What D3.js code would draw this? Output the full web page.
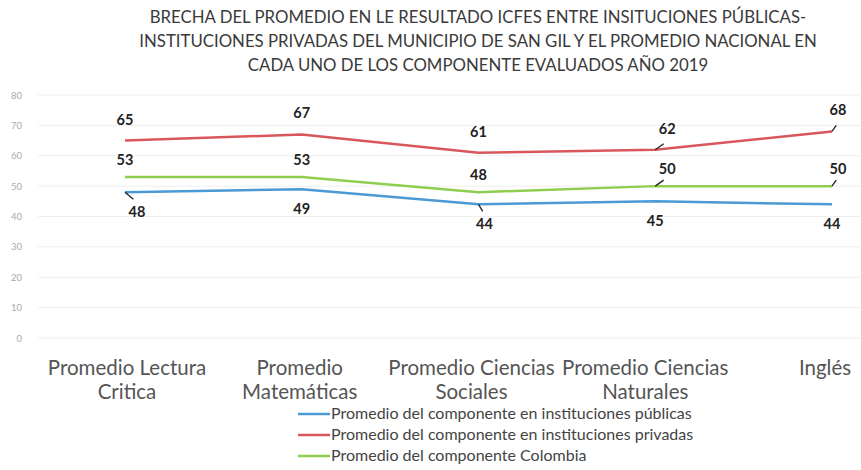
<!DOCTYPE html>
<html>
<head>
<meta charset="utf-8">
<script src="https://cdn.jsdelivr.net/npm/d3@7"></script>
<style>
  body { margin: 0; background: #fff; }
  svg { display: block; font-family: Lato, "Open Sans", sans-serif; }
</style>
</head>
<body>
<svg width="861" height="470"></svg>
<script>
// categories and series
const categories = ["Promedio Lectura Critica", "Promedio Matemáticas", "Promedio Ciencias Sociales", "Promedio Ciencias Naturales", "Inglés"];
const catLines = [["Promedio Lectura", "Critica"], ["Promedio", "Matemáticas"], ["Promedio Ciencias", "Sociales"], ["Promedio Ciencias", "Naturales"], ["Inglés"]];
const publicas = [48, 49, 44, 45, 44];
const privadas = [65, 67, 61, 62, 68];
const colombia = [53, 53, 48, 50, 50];
const seriesNames = [
    "Promedio del componente en instituciones públicas",
    "Promedio del componente en instituciones privadas",
    "Promedio del componente Colombia"
];
const yTicks = [0, 10, 20, 30, 40, 50, 60, 70, 80];
const titleLines = [
    "BRECHA DEL PROMEDIO EN LE RESULTADO ICFES ENTRE INSITUCIONES PÚBLICAS-",
    "INSTITUCIONES PRIVADAS DEL MUNICIPIO DE SAN GIL Y EL PROMEDIO NACIONAL EN",
    "CADA UNO DE LOS  COMPONENTE EVALUADOS AÑO 2019"
];

const svg = d3.select('svg');

var series = [
    {name: seriesNames[0], values: publicas, color: "#4b9ad6", dy: 25, dx: [12, 0, 6, 0, 0]},
    {name: seriesNames[1], values: privadas, color: "#d9575b", dy: -16, dx: [0, 0, 0, 12, 6]},
    {name: seriesNames[2], values: colombia, color: "#8fcd4f", dy: -12, dx: [0, 0, 0, 12, 6]}
];

// Scales
var x = d3.scalePoint()
    .domain(categories)
    .range([125, 832]);

var y = d3.scaleLinear()
    .domain([0, 80])
    .range([338, 95]);

// Title
svg.append('g').selectAll('text')
    .data(titleLines)
    .join('text')
        .attr('x', 478)
        .attr('y', (d, i) => 23 + i * 24)
        .attr('text-anchor', 'middle')
        .attr('font-size', 16.8)
        .attr('fill', '#3a3a3a')
        .text(d => d);

// gridlines
svg.append('g').selectAll('line')
    .data(yTicks)
    .join('line')
        .attr('x1', 38).attr('x2', 861)
        .attr('y1', d => y(d)).attr('y2', d => y(d))
        .attr('stroke', '#eeeeee')
        .attr('stroke-width', 1);

// y axis labels
var yAxis = d3.axisLeft(y)
    .tickValues(yTicks)
    .tickSize(0)
    .tickPadding(0);

var yAxisG = svg.append('g')
    .attr('transform', 'translate(22,0)')
    .call(yAxis);
yAxisG.select('.domain').remove();
yAxisG.selectAll('text')
    .attr('font-family', 'Lato, sans-serif')
    .attr('font-size', 9.5)
    .attr('fill', '#aaa');

// x labels
var labelShift = [2, -2, -7, -10, -7];
var xLab = svg.append('g').selectAll('text')
    .data(categories)
    .join('text')
        .attr('x', (d, i) => x(d) + labelShift[i])
        .attr('y', 375)
        .attr('text-anchor', 'middle')
        .attr('font-size', 20.5)
        .attr('fill', '#555');
xLab.selectAll('tspan')
    .data((d, i) => catLines[i])
    .join('tspan')
        .attr('x', function() { return this.parentNode.getAttribute('x'); })
        .attr('dy', (d, i) => i === 0 ? 0 : 24)
        .text(d => d);

// lines
var line = d3.line()
    .x((d, i) => x(categories[i]))
    .y(d => y(d));

series.forEach(function(s) {
    svg.append('path')
        .datum(s.values)
        .attr('d', line)
        .attr('fill', 'none')
        .attr('stroke', s.color)
        .attr('stroke-width', 2.5);
});

// data labels with small leader lines
series.forEach(function(s) {
    var g = svg.append('g');
    s.values.forEach(function(v, i) {
        var px = x(categories[i]), py = y(v);
        var lx = px + s.dx[i], ly = py + s.dy;
        if (s.dx[i] !== 0) {
            g.append('line')
                .attr('x1', px).attr('y1', py)
                .attr('x2', px + s.dx[i] * 0.7).attr('y2', py + (s.dy > 0 ? 7 : -6))
                .attr('stroke', '#222').attr('stroke-width', 1.3);
        }
        g.append('text')
            .attr('x', lx)
            .attr('y', ly)
            .attr('text-anchor', 'middle')
            .attr('font-size', 14.5)
            .attr('font-weight', 'bold')
            .attr('fill', '#222')
            .text(v);
    });
});

// legend
var leg = svg.append('g').selectAll('g')
    .data(series)
    .join('g')
        .attr('transform', (d, i) => `translate(298, ${414 + i * 21})`);
leg.append('line')
    .attr('x1', 0).attr('x2', 32)
    .attr('stroke', d => d.color)
    .attr('stroke-width', 2.5);
leg.append('text')
    .attr('x', 33)
    .attr('y', 5)
    .attr('font-size', 16)
    .attr('fill', '#444')
    .text(d => d.name);
</script>
</body>
</html>
